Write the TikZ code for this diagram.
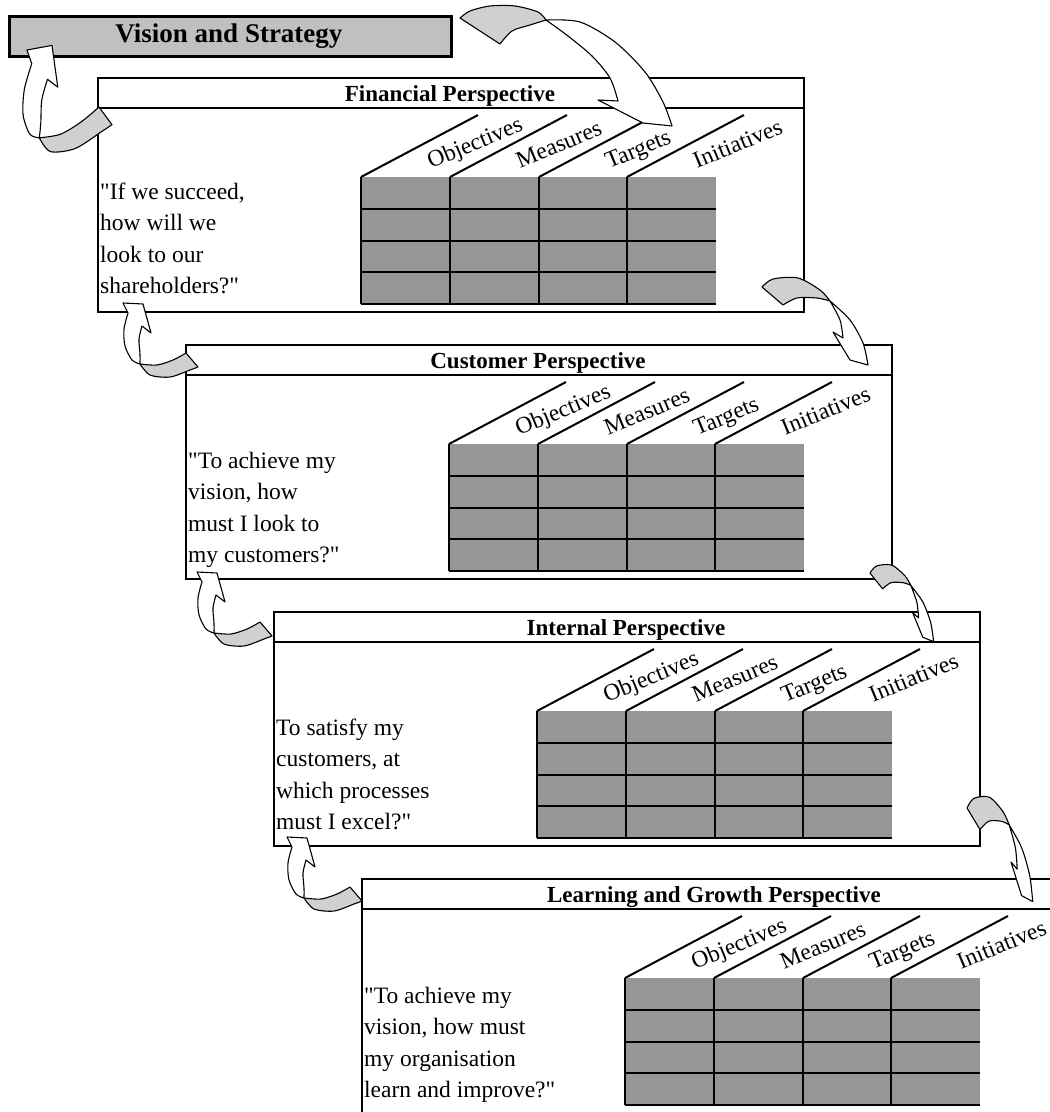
\documentclass[tikz,border=0pt]{standalone}
\usepackage{fontspec}
\setmainfont{Liberation Serif}[Ligatures=TeXOff]
\definecolor{tablegray}{HTML}{969696}
\definecolor{visiongray}{HTML}{C0C0C0}
\definecolor{arrowgray}{HTML}{D0D0D0}
\tikzset{
  panelbox/.style={draw, line width=2.2pt, fill=white, rectangle, minimum width=706pt, minimum height=234pt, anchor=north west, inner sep=0pt},
  rule/.style={line width=2.2pt},
  gridline/.style={line width=2pt, black},
  hdr/.style={font=\fontsize{23}{27}\selectfont\bfseries, anchor=base, inner sep=0pt},
  bodytext/.style={font=\fontsize{23.5}{27}\selectfont, anchor=base west, inner sep=0pt},
  collabel/.style={font=\fontsize{23.5}{27}\selectfont, anchor=base west, inner sep=0pt, rotate=22.5},
  arrw/.style={fill=white, draw=black, line width=1.1pt, line join=round},
  arrg/.style={fill=arrowgray, draw=black, line width=1.1pt, line join=round},
}
% name, L, T, title, l1, l2, l3, l4, first baseline offset
\newcommand\bscpanel[9]{%
  \node[panelbox] (#1) at (#2,#3) {};
  \draw[rule] (#2,#3+31) -- (#2+706,#3+31);
  \node[hdr] (#1-title) at (#2+353,#3+24) {#4};
  \fill[tablegray] (#2+264,#3+100) rectangle (#2+619,#3+227);
  \foreach \cx in {0,89,178,266} {
    \draw[gridline] (#2+264+\cx,#3+100) -- (#2+264+\cx,#3+227);
    \draw[gridline] (#2+264+\cx,#3+100) -- (#2+381+\cx,#3+38);
  }
  \foreach \ry in {31.75,63.5,95.25,127}
    \draw[gridline] (#2+264,#3+100+\ry) -- (#2+619,#3+100+\ry);
  \foreach \cx/\lab in {0/Objectives,89/Measures,178/Targets,266/Initiatives}
    \node[collabel] (#1-\lab) at (#2+334+\cx,#3+92) {\lab};
  \node[bodytext] (#1-l1) at (#2+3,#3+#9) {#5};
  \node[bodytext] (#1-l2) at (#2+3,#3+#9+31.6) {#6};
  \node[bodytext] (#1-l3) at (#2+3,#3+#9+63.2) {#7};
  \node[bodytext] (#1-l4) at (#2+3,#3+#9+94.8) {#8};
}
% right arrow: tail top at (x,y), xscale, yscale
\newcommand\rarrow[4]{%
  \begin{scope}[shift={(#1,#2)}, xscale=#3, yscale=#4]
    \draw[arrw] plot[smooth] coordinates {(68,14) (88,33) (101,56) (106,78)} -- (88,73) -- (71,45) -- (81,51)
      -- plot[smooth] coordinates {(81,51) (78,33) (68,14)} -- cycle;
    \draw[arrg] plot[smooth] coordinates {(0,0) (11,-8) (36,-9) (58,3) (68,14)}
      -- plot[smooth] coordinates {(68,14) (55,11) (35,11) (21,18)} -- cycle;
  \end{scope}
}
% left arrow: placement transformation
\newcommand\larrow[1]{%
  \begin{scope}[#1]
    \draw[arrw] plot[smooth] coordinates {(-45,20) (-53,16) (-60,2) (-61,-15) (-57,-31)} -- (-62,-41) -- (-42,-40) -- (-34,-11) -- (-43,-18)
      -- plot[smooth] coordinates {(-43,-18) (-46,-5) (-45,10) (-45,20)} -- cycle;
    \draw[arrg] plot[smooth] coordinates {(1,9) (-12,16) (-28,21) (-45,20)}
      -- plot[smooth] coordinates {(-45,20) (-35,31) (-15,33) (5,26) (13,23)} -- cycle;
  \end{scope}
}
\begin{document}
\begin{tikzpicture}[x=1pt,y=-1pt]
  \path[use as bounding box] (0,0) rectangle (1050,1112);
  \clip (0,0) rectangle (1050,1112);
  \node[draw, line width=2.5pt, fill=visiongray, minimum width=442pt, minimum height=40pt, anchor=north west, inner sep=0pt] (vision) at (8,15) {};
  \node[font=\fontsize{27}{30}\selectfont\bfseries, anchor=base, inner sep=0pt] (vision-title) at (229,42) {Vision and Strategy};
  \bscpanel{fin}{97}{77}{Financial Perspective}{"If we succeed,}{how will we}{look to our}{shareholders?"}{122}
  \bscpanel{cus}{185}{344}{Customer Perspective}{"To achieve my}{vision, how}{must I look to}{my customers?"}{124}
  \bscpanel{int}{273}{611}{Internal Perspective}{To satisfy my}{customers, at}{which processes}{must I excel?"}{124}
  \bscpanel{lrn}{361}{878}{Learning and Growth Perspective}{"To achieve my}{vision, how must}{my organisation}{learn and improve?"}{125}
  % arrows
  \larrow{cm={1.26,0.305,0.1475,1.525,(99,93.6)}}
  \larrow{shift={(185,344)}}
  \larrow{shift={(259,613)}}
  \larrow{shift={(349,878)}}
  % Vision -> Financial (wide arc)
  \draw[arrw] plot[smooth] coordinates {(546,20) (580,22) (615,42) (645,72) (663,102) (672,126)}
    -- (643,123) -- (598,100) -- (618,101)
    -- plot[smooth] coordinates {(618,101) (610,78) (592,56) (568,36) (546,20)} -- cycle;
  \draw[arrg] plot[smooth] coordinates {(460,18) (470,11) (490,6) (515,6) (538,12) (546,20)}
    -- plot[smooth] coordinates {(546,20) (530,25) (512,31) (500,44)} -- cycle;
  \rarrow{762}{287}{1}{1}
  \rarrow{870}{573}{0.6}{0.88}
  \rarrow{967}{808}{0.62}{1.2}
\end{tikzpicture}
\end{document}
